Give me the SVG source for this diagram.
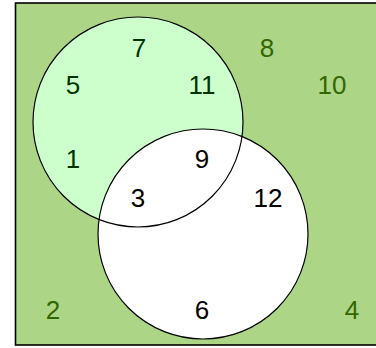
<svg xmlns="http://www.w3.org/2000/svg" width="376" height="348" viewBox="0 0 376 348">
<style>
text{font-family:"Liberation Sans",Arial,sans-serif;font-size:26px;text-anchor:middle}
.out{fill:#336600}
.a{fill:#003300}
.b{fill:#000000}
.ln{fill:none;stroke:#000;stroke-width:1.2}
</style>
<g id="universe">
<rect x="15.5" y="3" width="370" height="342" fill="#acd686" stroke="#000" stroke-width="1.6"/>
</g>
<g id="setA-fill"><circle cx="138" cy="122" r="105" fill="#ccffcc"/></g>
<g id="setB-fill"><circle cx="203" cy="234" r="105" fill="#ffffff"/></g>
<g id="outlines">
<circle class="ln" cx="138" cy="122" r="105" stroke="#003300"/>
<circle class="ln" cx="203" cy="234" r="105"/>
</g>
<g id="labels">
<text class="a" x="139" y="57">7</text>
<text class="a" x="73" y="94">5</text>
<text class="a" x="202" y="94">11</text>
<text class="a" x="73" y="168">1</text>
<text class="b" x="202" y="168">9</text>
<text class="b" x="138" y="207">3</text>
<text class="b" x="268" y="207">12</text>
<text class="b" x="202" y="319">6</text>
<text class="out" x="267" y="57">8</text>
<text class="out" x="332" y="94">10</text>
<text class="out" x="53" y="319">2</text>
<text class="out" x="352" y="319">4</text>
</g>
</svg>
